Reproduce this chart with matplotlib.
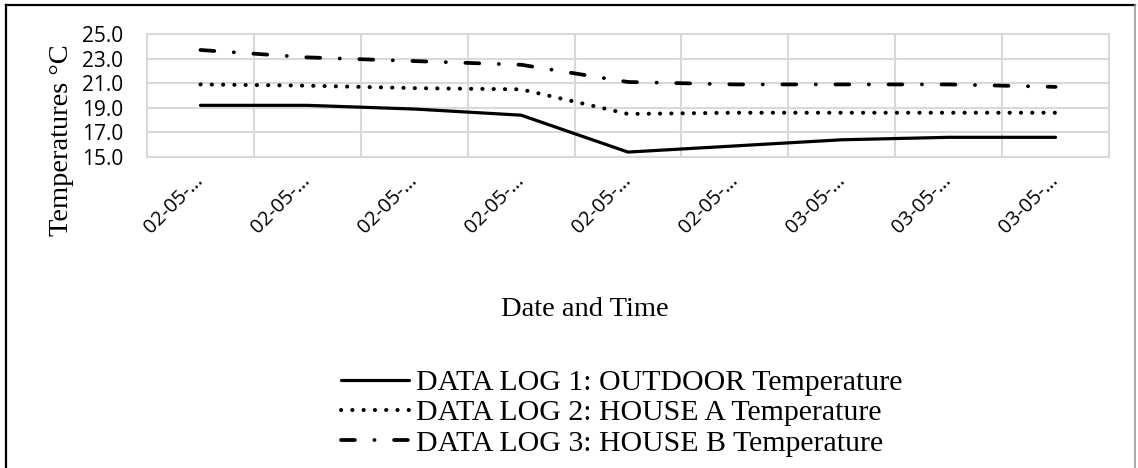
import matplotlib
matplotlib.use('Agg')
from matplotlib import pyplot as plt
from matplotlib.lines import Line2D
from matplotlib import transforms
import numpy as np

# data
stamps = ['02-05-…'] * 6 + ['03-05-…'] * 3
outdoor = [19.2, 19.2, 18.9, 18.4, 15.4, 15.9, 16.4, 16.6, 16.6]
house_a = [20.9, 20.8, 20.6, 20.5, 18.5, 18.6, 18.6, 18.6, 18.6]
house_b = [23.7, 23.1, 22.8, 22.5, 21.1, 20.9, 20.9, 20.9, 20.7]
yticks = [15.0, 17.0, 19.0, 21.0, 23.0, 25.0]

labels = ['DATA LOG 1: OUTDOOR Temperature',
          'DATA LOG 2: HOUSE A Temperature',
          'DATA LOG 3: HOUSE B Temperature']

W, H = 1138, 468
SERIF = ['Liberation Serif', 'DejaVu Serif']
SANS = ['Open Sans', 'DejaVu Sans']
GRID = '#d9d9d9'

fig = plt.figure(figsize=(W / 100, H / 100), dpi=100)
ax = fig.add_axes([147 / W, 1 - 157 / H, (1109 - 147) / W, (157 - 34) / H])

x = np.arange(len(stamps))

ax.plot(x, outdoor, color='black', lw=2.3, solid_capstyle='round',
        solid_joinstyle='round', label=labels[0])
ax.plot(x, house_a, color='black', lw=2.9, dash_capstyle='round',
        dashes=(0.05, 2.75), label=labels[1])
ax.plot(x, house_b, color='black', lw=2.7, dash_capstyle='round',
        dashes=(3.7, 5.2, 0.05, 5.2), label=labels[2])

ax.set_xlim(-0.5, len(stamps) - 0.5)
ax.set_ylim(15, 25)
ax.set_yticks(yticks)
ax.set_yticklabels([f'{v:.1f}' for v in yticks], fontfamily=SANS, fontsize=15)

ax.set_xticks(x)
ax.set_xticks(np.arange(len(stamps) + 1) - 0.5, minor=True)
ax.set_xticklabels(stamps, fontfamily=SANS, fontsize=14.5, rotation=45,
                   ha='right', va='center', rotation_mode='anchor')
offset = transforms.ScaledTranslation(19 / 100, 0, fig.dpi_scale_trans)
for lab in ax.get_xticklabels():
    lab.set_transform(lab.get_transform() + offset)

ax.tick_params(axis='both', which='both', length=0)
ax.tick_params(axis='x', pad=15)
ax.tick_params(axis='y', pad=17)
ax.grid(True, axis='y', color=GRID, lw=1.5)
ax.grid(True, axis='x', which='minor', color=GRID, lw=1.5)
ax.grid(False, axis='x', which='major')
ax.set_axisbelow(True)
for sp in ax.spines.values():
    sp.set_color(GRID)
    sp.set_linewidth(1.5)

fig.text(61 / W, 1 - 140 / H, 'Temperatures \u00b0C', rotation=90,
         ha='center', va='center', fontfamily=SERIF, fontsize=20.5)
fig.text(585 / W, 1 - 310 / H, 'Date and Time', ha='center', va='center',
         fontfamily=SERIF, fontsize=20.5)

leg = fig.legend(loc='center', bbox_to_anchor=((341 + 902) / 2 / W, 1 - 413 / H),
                 frameon=False, prop={'family': SERIF, 'size': 21.5},
                 handlelength=2.3, handletextpad=0.22, labelspacing=0.12,
                 borderpad=0, borderaxespad=0)

# outer chart frame (no bottom edge in the reference)
fig.add_artist(Line2D([6 / W, 6 / W], [0, 1 - 5 / H], color='black', lw=1.6))
fig.add_artist(Line2D([6 / W, 1135 / W], [1 - 5 / H, 1 - 5 / H], color='black', lw=1.6))
fig.add_artist(Line2D([1135 / W, 1135 / W], [0, 1 - 5 / H], color='#999999', lw=1.2))

fig.savefig('out.png', dpi=100)
